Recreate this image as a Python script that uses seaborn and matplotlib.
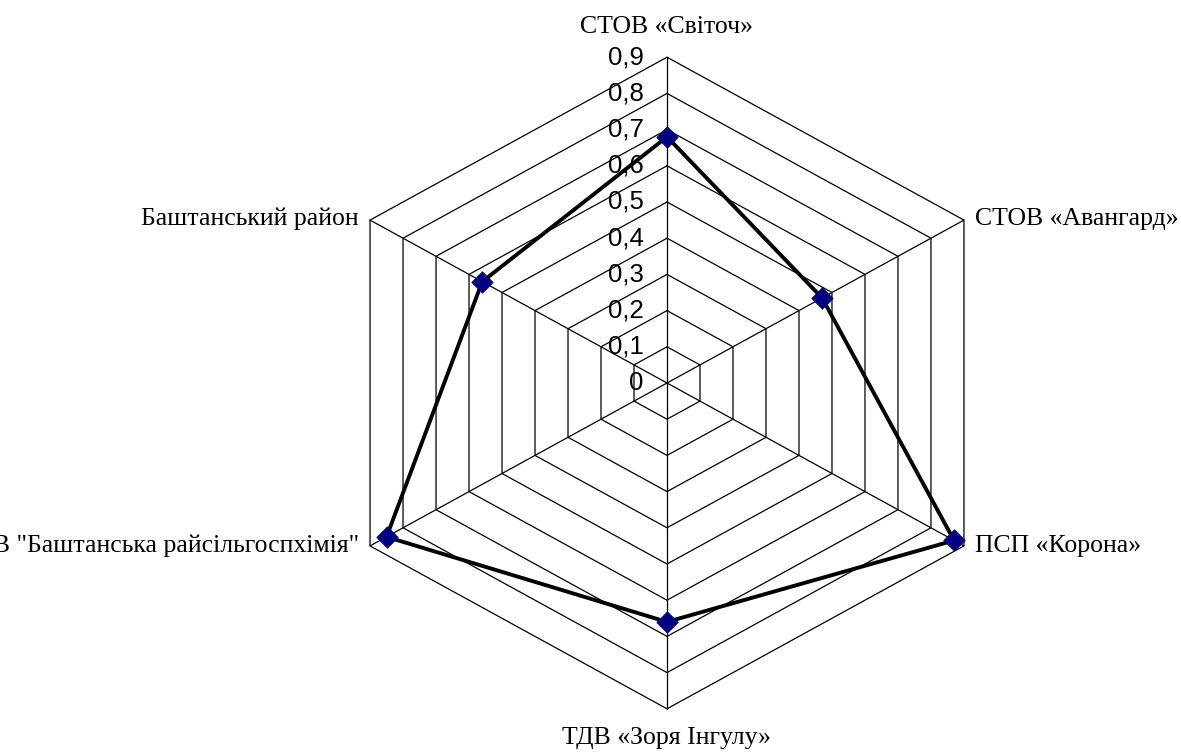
import numpy as np
import pandas as pd
import matplotlib
matplotlib.use("Agg")
import matplotlib.pyplot as plt
import seaborn as sns

categories = [
    'СТОВ «Світоч»',
    'СТОВ «Авангард»',
    'ПСП «Корона»',
    'ТДВ «Зоря Інгулу»',
    'ТОВ "Баштанська райсільгоспхімія"',
    'Баштанський район',
]
values = [0.68, 0.47, 0.87, 0.66, 0.85, 0.56]
levels = [0, 0.1, 0.2, 0.3, 0.4, 0.5, 0.6, 0.7, 0.8, 0.9]
level_labels = ['0', '0,1', '0,2', '0,3', '0,4', '0,5', '0,6', '0,7', '0,8', '0,9']

sns.set_style('white')
plt.rcParams['font.family'] = ['Liberation Serif', 'DejaVu Serif']
plt.rcParams['text.color'] = 'black'

n = len(categories)
angles = np.arange(n) * 2 * np.pi / n  # clockwise from top
sx, sy = np.sin(angles), np.cos(angles)
rmax = levels[-1]

fig = plt.figure(figsize=(11.81, 7.54), dpi=100)
ax = fig.add_axes([0, 0, 1, 1])
# chart is slightly wider than tall, so scale x a bit
kx = 381 / 362
ax.set_xlim(-667 / 362, (1181 - 667) / 362)
ax.set_ylim(-371 / 362, 383 / 362)
ax.axis('off')

# hexagon grid
for lv in levels[1:]:
    gx = np.append(lv * sx * kx, lv * sx[0] * kx)
    gy = np.append(lv * sy, lv * sy[0])
    ax.plot(gx, gy, color='black', lw=0.9, zorder=1)
# spokes
for i in range(n):
    ax.plot([0, rmax * sx[i] * kx], [0, rmax * sy[i]], color='black', lw=0.9, zorder=1)

# data polygon
df = pd.DataFrame({
    'x': np.append(np.array(values) * sx * kx, values[0] * sx[0] * kx),
    'y': np.append(np.array(values) * sy, values[0] * sy[0]),
    'order': np.arange(n + 1),
})
sns.lineplot(data=df, x='x', y='y', sort=False, estimator=None, color='black',
             lw=2.8, ax=ax, zorder=3)
sns.scatterplot(data=df.iloc[:n], x='x', y='y', marker='D', s=120, color='#000080',
                edgecolor='#000080', linewidth=0.5, ax=ax, zorder=4)

# radial tick labels
for lv, lab in zip(levels, level_labels):
    ax.annotate(lab, (0, lv), xytext=(-17, 0), textcoords='offset points',
                ha='right', va='center', fontsize=18.5, color='black',
                family=['Liberation Sans', 'DejaVu Sans'], zorder=2)

# category labels (the left one runs off the edge, as in the original)
offsets = [(0, 22), (8, 1), (8, 0), (0, -21), (-8, 0), (-8, 1)]
aligns = [('center', 'center'), ('left', 'center'), ('left', 'center'),
          ('center', 'center'), ('right', 'center'), ('right', 'center')]
for i, cat in enumerate(categories):
    ax.annotate(cat, (rmax * sx[i] * kx, rmax * sy[i]), xytext=offsets[i],
                textcoords='offset points', ha=aligns[i][0], va=aligns[i][1],
                fontsize=18.5, color='black', annotation_clip=False)

fig.savefig('out.png', dpi=100)
